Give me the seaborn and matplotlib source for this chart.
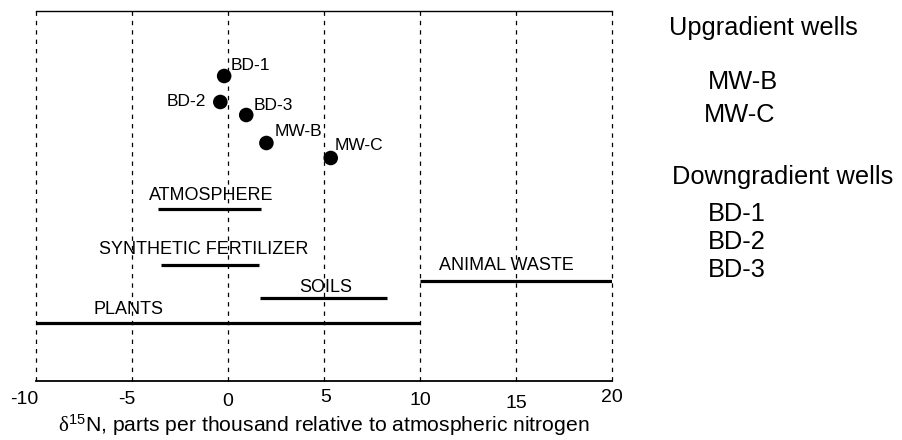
import matplotlib
matplotlib.use("Agg")
import matplotlib.pyplot as plt
import matplotlib.transforms as mtransforms
import seaborn as sns
import pandas as pd

# ---- data ----
wells = ["BD-1", "BD-2", "BD-3", "MW-B", "MW-C"]
well_d15n = [-0.2, -0.4, 0.95, 2.0, 5.35]
well_row = [30.5, 27.9, 26.6, 23.8, 22.3]

sources = ["ATMOSPHERE", "SYNTHETIC FERTILIZER", "SOILS", "PLANTS", "ANIMAL WASTE"]
source_lo = [-3.65, -3.5, 1.65, -10.0, 10.0]
source_hi = [1.7, 1.6, 8.3, 10.0, 20.0]
source_row = [17.2, 11.6, 8.3, 5.8, 10.0]

x_ticks = [-10, -5, 0, 5, 10, 15, 20]
x_tick_labels = ["-10", "-5", "0", "5", "10", "15", "20"]
x_label = r"$\mathrm{\delta}^{\mathsf{15}}$N, parts per thousand relative to atmospheric nitrogen"

legend_up_title = "Upgradient wells"
legend_up = ["MW-B", "MW-C"]
legend_down_title = "Downgradient wells"
legend_down = ["BD-1", "BD-2", "BD-3"]

# ---- style ----
sns.set_theme(style="white")
plt.rcParams["font.family"] = ["Liberation Sans", "DejaVu Sans"]
plt.rcParams["mathtext.fontset"] = "custom"
plt.rcParams["mathtext.rm"] = "Liberation Serif"
plt.rcParams["mathtext.sf"] = "Liberation Sans"
plt.rcParams["mathtext.it"] = "Liberation Sans:italic"

W, H = 903, 440
fig = plt.figure(figsize=(W / 100, H / 100), dpi=100)
ax = fig.add_axes([36 / W, 1 - 381 / H, 576 / W, 370 / H])
ax.set_xlim(-10, 20)
ax.set_ylim(0, 37)

# vertical dashed grid lines
for xt in x_ticks:
    ax.axvline(xt, color="black", lw=0.9, ls=(0, (3.5, 4)), clip_on=False, zorder=1)

# source ranges
ax.hlines(source_row, source_lo, source_hi, color="black", lw=2.3, zorder=2)
label_pos = {
    "ATMOSPHERE": (-0.9, 18.6),
    "SYNTHETIC FERTILIZER": (-1.25, 13.15),
    "SOILS": (5.1, 9.4),
    "PLANTS": (-5.2, 7.2),
    "ANIMAL WASTE": (14.5, 11.6),
}
for name in sources:
    lx, ly = label_pos[name]
    ax.text(lx, ly, name, ha="center", va="center", fontsize=13, color="black", zorder=3)

# wells
df = pd.DataFrame({"well": wells, "d15n": well_d15n, "row": well_row})
sns.scatterplot(data=df, x="d15n", y="row", color="black", s=110, edgecolor="none",
                ax=ax, zorder=4, legend=False)
offsets = {
    "BD-1": (4.5, 7.5, "left"),
    "BD-2": (-10, 0, "right"),
    "BD-3": (5.5, 7.2, "left"),
    "MW-B": (5.8, 8.0, "left"),
    "MW-C": (2.5, 9.0, "left"),
}
for w, xv, yv in zip(wells, well_d15n, well_row):
    dx, dy, ha = offsets[w]
    ax.annotate(w, (xv, yv), xytext=(dx, dy), textcoords="offset points",
                ha=ha, va="center", fontsize=12.5, color="black", zorder=5)

# axes styling
ax.set_xlabel(x_label, fontsize=15.2, color="black", labelpad=0)
ax.set_ylabel("")
ax.set_yticks([])
ax.set_xticks(x_ticks)
ax.set_xticklabels(x_tick_labels)
ax.tick_params(axis="x", direction="in", length=12, width=1.4, colors="black",
               labelsize=14, pad=7)
for side in ["left", "right"]:
    ax.spines[side].set_visible(False)
ax.spines["top"].set_color("black")
ax.spines["top"].set_linewidth(1.0)
ax.spines["bottom"].set_color("black")
ax.spines["bottom"].set_linewidth(1.3)
ax.xaxis.label.set_color("black")

# small per-label shifts as in the reference
fig.canvas.draw()
shifts = {"-10": (-12, 0), "-5": (-5, 0), "0": (0, 2), "5": (2, -2),
          "10": (0, 1), "15": (0, 4), "20": (0, -2)}
for lab in ax.get_xticklabels():
    t = lab.get_text()
    if t in shifts:
        dx, dy = shifts[t]
        lab.set_transform(lab.get_transform() +
                          mtransforms.ScaledTranslation(dx / 100, -dy / 100, fig.dpi_scale_trans))

# right-hand well list
def ftext(px, py, s):
    fig.text(px / W, 1 - py / H, s, ha="left", va="center", fontsize=18.3, color="black")

ftext(669, 28, legend_up_title)
for s, (px, py) in zip(legend_up, [(708, 82), (704, 115)]):
    ftext(px, py, s)
ftext(672, 177, legend_down_title)
for s, py in zip(legend_down, [214, 242, 270]):
    ftext(708, py, s)

fig.savefig("out.png", dpi=100)
